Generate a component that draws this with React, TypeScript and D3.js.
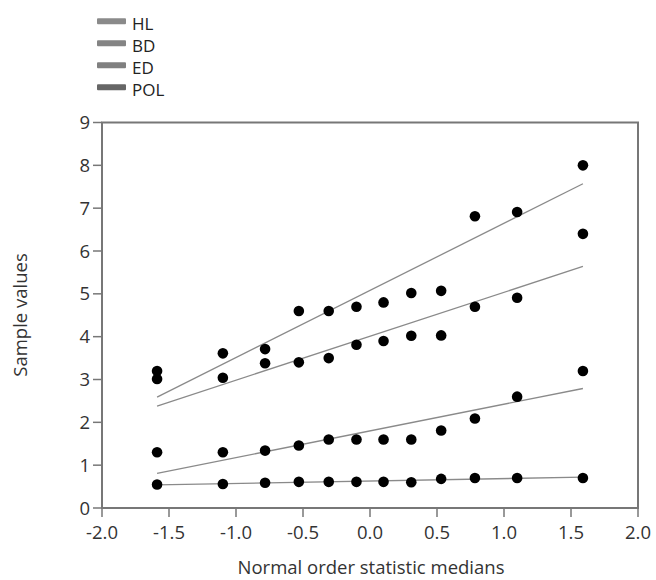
import React from "react";
import * as d3 from "d3";

const xMedians = [-1.589, -1.098, -0.783, -0.531, -0.308, -0.101, 0.101, 0.308, 0.531, 0.783, 1.098, 1.589];
const seriesNames = ["HL", "BD", "ED", "POL"];
const hlValues = [3.2, 3.61, 3.71, 4.6, 4.6, 4.7, 4.8, 5.02, 5.07, 6.81, 6.91, 8.0];
const bdValues = [3.01, 3.04, 3.38, 3.4, 3.5, 3.81, 3.9, 4.02, 4.03, 4.7, 4.91, 6.4];
const edValues = [1.3, 1.3, 1.34, 1.46, 1.6, 1.6, 1.6, 1.6, 1.81, 2.09, 2.6, 3.2];
const polValues = [0.55, 0.56, 0.59, 0.61, 0.61, 0.61, 0.61, 0.6, 0.68, 0.7, 0.7, 0.7];
// reference-line values at the lowest and highest median, per series
const lineStartValues = [2.59, 2.38, 0.81, 0.54];
const lineEndValues = [7.57, 5.64, 2.79, 0.72];
const legendColors = ["#8a8a8a", "#848484", "#808080", "#666666"];
const xTicks = [-2.0, -1.5, -1.0, -0.5, 0.0, 0.5, 1.0, 1.5, 2.0];
const yTicks = [0, 1, 2, 3, 4, 5, 6, 7, 8, 9];

const allSeries = [hlValues, bdValues, edValues, polValues];

export default function App() {
  const W = 656, H = 580;
  const left = 102, right = 638, top = 122.5, bottom = 508;
  const x = d3.scaleLinear().domain([-2, 2]).range([left, right]);
  const y = d3.scaleLinear().domain([0, 9]).range([bottom, top]);
  const font = "'Open Sans', 'Noto Sans', sans-serif";
  const fs = 18.5;
  const axisColor = "#777";
  const textColor = "#333";
  const xMin = d3.min(xMedians)!, xMax = d3.max(xMedians)!;

  return (
    <svg width={W} height={H} style={{ position: "absolute", left: 0, top: 0 }} fontFamily={font}>
      <rect width={W} height={H} fill="#fff" />
      {/* legend */}
      {seriesNames.map((n, i) => (
        <g key={n}>
          <rect x={97} y={18.3 + i * 22} width={29} height={6} fill={legendColors[i]} rx={1} />
          <text x={132} y={29.5 + i * 22.3} fontSize={17} fill="#222">{n}</text>
        </g>
      ))}
      {/* frame */}
      <rect x={left} y={top} width={right - left} height={bottom - top} fill="none" stroke={axisColor} strokeWidth={2} />
      {/* y ticks */}
      {yTicks.map((t) => (
        <g key={t}>
          <line x1={left - 9} x2={left} y1={y(t)} y2={y(t)} stroke={axisColor} strokeWidth={1.5} />
          <text x={left - 12} y={y(t)} dy="0.36em" textAnchor="end" fontSize={fs} fill={textColor}>{t}</text>
        </g>
      ))}
      {/* x ticks */}
      {xTicks.map((t) => (
        <g key={t}>
          <line x1={x(t)} x2={x(t)} y1={bottom} y2={bottom + 9} stroke={axisColor} strokeWidth={1.5} />
          <text x={x(t)} y={539} textAnchor="middle" fontSize={fs} fill={textColor}>{t.toFixed(1)}</text>
        </g>
      ))}
      {/* axis titles */}
      <text x={371} y={574} textAnchor="middle" fontSize={fs} fill={textColor}>Normal order statistic medians</text>
      <text transform={`translate(27, 315) rotate(-90)`} textAnchor="middle" fontSize={fs} fill={textColor}>Sample values</text>
      {/* reference lines */}
      {allSeries.map((s, i) => (
        <line key={"l" + i} x1={x(xMin)} y1={y(lineStartValues[i])} x2={x(xMax)} y2={y(lineEndValues[i])} stroke="#8a8a8a" strokeWidth={1.3} />
      ))}
      {/* points */}
      {allSeries.map((s, i) => (
        <g key={"p" + i}>
          {s.map((v, j) => (
            <circle key={j} cx={x(xMedians[j])} cy={y(v)} r={5.3} fill="#000" />
          ))}
        </g>
      ))}
    </svg>
  );
}
